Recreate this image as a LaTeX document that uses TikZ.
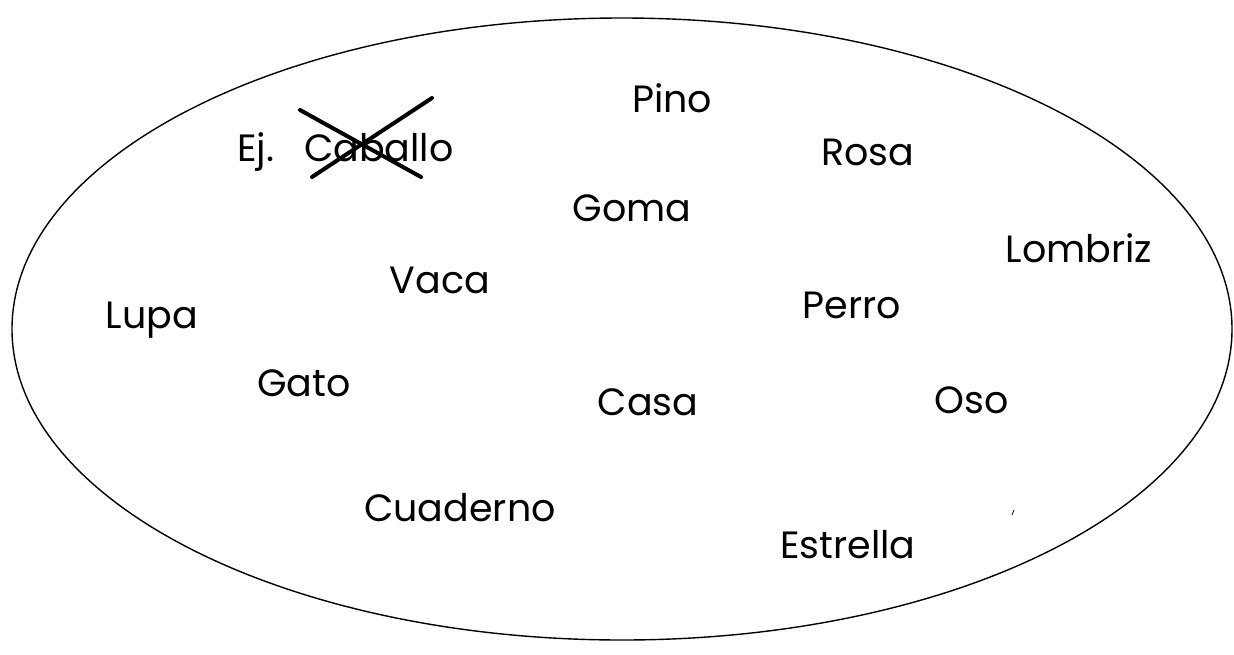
\documentclass[tikz,border=0pt]{standalone}
\usepackage{fontspec}
\setmainfont{Poppins}
\tikzset{
  word/.style={inner sep=0pt, font=\fontsize{38}{40}\selectfont, anchor=center},
  crossline/.style={line width=4pt, line cap=round},
  outline/.style={line width=1.4pt}
}
\begin{document}
\begin{tikzpicture}[x=1pt,y=-1pt]
\useasboundingbox (0,0) rectangle (1234,654);
\draw[outline] (622,329) ellipse [x radius=610, y radius=311];
\node[word] (pino) at (672,98) {Pino};
\node[word, anchor=base west] (ej) at (237,161) {Ej.};
\node[word, anchor=base west] (caballo) at (304,161) {Caballo};
\node[word] (rosa) at (868,152) {Rosa};
\node[word] (goma) at (632,208) {Goma};
\node[word] (lombriz) at (1079,248) {Lombriz};
\node[word] (vaca) at (440,280) {Vaca};
\node[word] (perro) at (852,305) {Perro};
\node[word] (lupa) at (152,320) {Lupa};
\node[word] (gato) at (304,383) {Gato};
\node[word] (casa) at (648,402) {Casa};
\node[word] (oso) at (972,400) {Oso};
\node[word] (cuaderno) at (460,508) {Cuaderno};
\node[word] (estrella) at (848,545) {Estrella};
\draw[crossline] (300,110) -- (421,177);
\draw[crossline] (312,177) -- (432,98);
\draw[line width=0.8pt] (1012,515) -- (1014,510);
\end{tikzpicture}
\end{document}
